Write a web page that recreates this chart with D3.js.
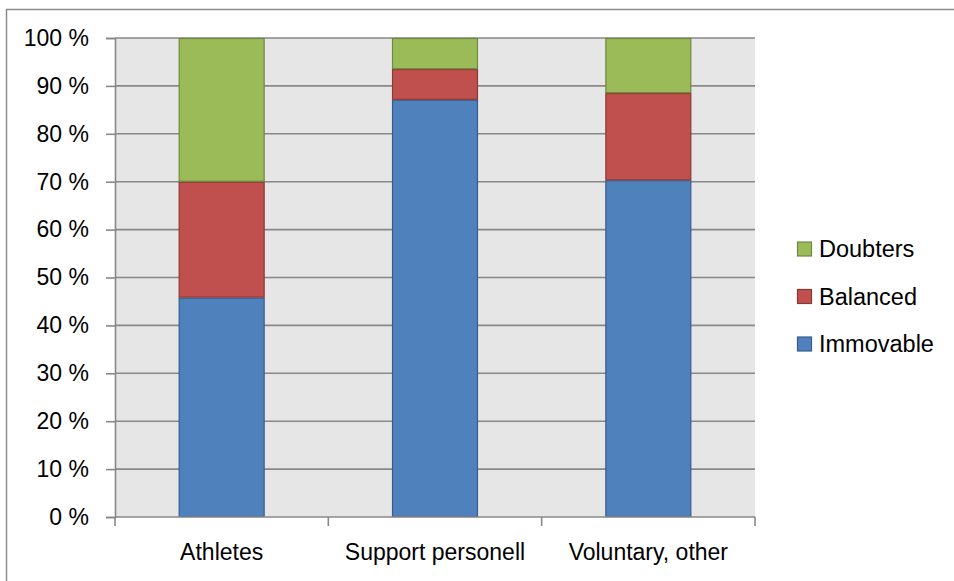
<!DOCTYPE html>
<html>
<head>
<meta charset="utf-8">
<script src="https://cdn.jsdelivr.net/npm/d3@7"></script>
<style>
  html, body { margin: 0; padding: 0; background: #fff; }
  svg { display: block; font-family: "Liberation Sans", Arial, sans-serif; }
</style>
</head>
<body>
<svg id="chart" width="954" height="581"></svg>
<script>
const categories = ["Athletes", "Support personell", "Voluntary, other"];
const seriesNames = ["Immovable", "Balanced", "Doubters"];
const immovable = [45.8, 87.1, 70.3];
const balanced = [24.2, 6.4, 18.2];
const doubters = [30.0, 6.5, 11.5];
const yTicks = [0, 10, 20, 30, 40, 50, 60, 70, 80, 90, 100];
const fills = ["#4f81bd", "#c0504d", "#9bbb59"];
const strokes = ["#385d8a", "#8c3836", "#71893f"];

(function () {
const svg = d3.select("#chart");
const pLeft = 115, pRight = 755, pTop = 38, pBottom = 517;

// outer chart border (extends past the window edge)
svg.append("rect").attr("x", 6.5).attr("y", 9.5).attr("width", 1000).attr("height", 1000)
  .attr("fill", "none").attr("stroke", "#8c8c8c").attr("stroke-width", 1.5);

const x = d3.scaleBand().domain(categories).range([pLeft, pRight]).padding(0);
const y = d3.scaleLinear().domain([0, 100]).range([pBottom, pTop]);

// plot background
svg.append("rect").attr("x", pLeft).attr("y", pTop).attr("width", pRight - pLeft).attr("height", pBottom - pTop)
  .attr("fill", "#e6e6e6");

// gridlines
svg.append("g").selectAll("line").data(yTicks.filter(d => d > 0)).join("line")
  .attr("x1", pLeft).attr("x2", pRight)
  .attr("y1", d => y(d)).attr("y2", d => y(d))
  .attr("stroke", "#888").attr("stroke-width", 1.6);

// stacked data
const rows = categories.map((c, i) => ({ cat: c, Immovable: immovable[i], Balanced: balanced[i], Doubters: doubters[i] }));
const stack = d3.stack().keys(seriesNames)(rows);
const barW = x.bandwidth() * 0.403;

svg.append("g").selectAll("g").data(stack).join("g")
  .attr("fill", (d, i) => fills[i]).attr("stroke", (d, i) => strokes[i])
  .selectAll("rect").data(d => d).join("rect")
  .attr("x", d => x(d.data.cat) + (x.bandwidth() - barW) / 2 + 0.5)
  .attr("width", barW - 1)
  .attr("y", d => y(d[1]) + 0.5)
  .attr("height", d => y(d[0]) - y(d[1]) - 1)
  .attr("stroke-width", 1.2);

// y axis
const yAxis = d3.axisLeft(y).tickValues(yTicks).tickSize(9).tickPadding(17).tickFormat(d => d + " %");
const yg = svg.append("g").attr("transform", `translate(${pLeft},0)`).call(yAxis);
yg.select(".domain").attr("stroke", "#888").attr("stroke-width", 1.6);
yg.selectAll(".tick line").attr("stroke", "#888").attr("stroke-width", 1.6);
yg.selectAll("text").attr("font-size", 23).attr("fill", "#000")
  .attr("font-family", "'Liberation Sans', Arial, sans-serif");

// x axis
const boundaries = [pLeft].concat(categories.map(c => x(c) + x.bandwidth()));
const xg = svg.append("g");
xg.append("line").attr("x1", pLeft).attr("x2", pRight).attr("y1", pBottom).attr("y2", pBottom)
  .attr("stroke", "#888").attr("stroke-width", 1.6);
xg.selectAll("line.tk").data(boundaries).join("line").attr("class", "tk")
  .attr("x1", d => d).attr("x2", d => d).attr("y1", pBottom).attr("y2", pBottom + 9)
  .attr("stroke", "#888").attr("stroke-width", 1.6);
xg.selectAll("text").data(categories).join("text")
  .attr("x", d => x(d) + x.bandwidth() / 2).attr("y", 560)
  .attr("text-anchor", "middle").attr("font-size", 23).attr("fill", "#000")
  .text(d => d);

// legend
const legendOrder = [2, 1, 0];
const lg = svg.append("g");
legendOrder.forEach((si, k) => {
  const cy = 249 + k * 47.5;
  lg.append("rect").attr("x", 797.5).attr("y", cy - 7).attr("width", 14).attr("height", 14)
    .attr("fill", fills[si]).attr("stroke", strokes[si]).attr("stroke-width", 1.2);
  lg.append("text").attr("x", 819).attr("y", cy).attr("dy", "0.36em")
    .attr("font-size", 23.5).attr("fill", "#000").text(seriesNames[si]);
});
})();
</script>
</body>
</html>
